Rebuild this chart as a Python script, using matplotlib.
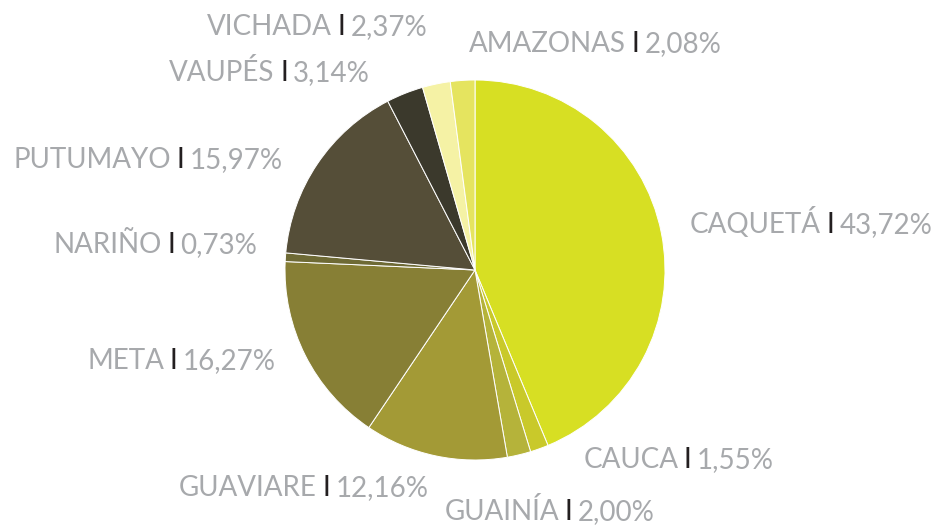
import matplotlib.pyplot as plt
from matplotlib.offsetbox import TextArea, HPacker, AnnotationBbox

# share of each department, clockwise from 12 o'clock
departments = ['CAQUETÁ', 'CAUCA', 'GUAINÍA', 'GUAVIARE', 'META',
               'NARIÑO', 'PUTUMAYO', 'VAUPÉS', 'VICHADA', 'AMAZONAS']
shares = [43.72, 1.55, 2.00, 12.16, 16.27, 0.73, 15.97, 3.14, 2.37, 2.08]
colors = ['#d7df23', '#c9c92a', '#b5b33a', '#a39a36', '#877f35',
          '#6e6a35', '#554e38', '#3b392c', '#f5f2a5', '#e5e45f']

# label anchors (left edge, vertical centre) in pie units
label_pos = {
    'CAQUETÁ': (1.13, 0.25),
    'CAUCA': (0.57, -1.00),
    'GUAINÍA': (-0.16, -1.27),
    'GUAVIARE': (-1.56, -1.15),
    'META': (-2.04, -0.48),
    'NARIÑO': (-2.22, 0.13),
    'PUTUMAYO': (-2.43, 0.58),
    'VAUPÉS': (-1.61, 1.04),
    'VICHADA': (-1.41, 1.28),
    'AMAZONAS': (-0.03, 1.19),
}

gray = '#a7a9ac'
dark = '#231f20'
font = dict(family='Lato', size=20)

fig = plt.figure(figsize=(9.41, 5.25), dpi=100)
ax = fig.add_axes([0, 0, 1, 1])
ax.pie(shares, colors=colors, startangle=90, counterclock=False,
       radius=1, center=(0, 0),
       wedgeprops=dict(edgecolor='white', linewidth=0.7))
ax.set_xlim(-475 / 190, 466 / 190)
ax.set_ylim(-255 / 190, 270 / 190)
ax.set_aspect('equal')
ax.axis('off')

for name, val in zip(departments, shares):
    parts = [
        TextArea(name, textprops=dict(color=gray, **font)),
        TextArea('I', textprops=dict(color=dark, **font)),
        TextArea(f'{val:.2f}%'.replace('.', ','), textprops=dict(color=gray, **font)),
    ]
    box = HPacker(children=parts, align='baseline', pad=0, sep=4)
    ab = AnnotationBbox(box, label_pos[name], xycoords='data',
                        box_alignment=(0, 0.5), frameon=False, pad=0)
    ax.add_artist(ab)

fig.savefig('out.png', dpi=100)
